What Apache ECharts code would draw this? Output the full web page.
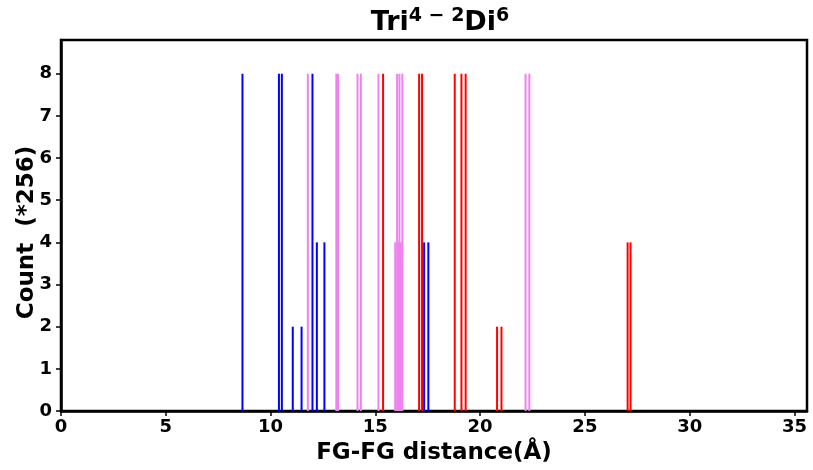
<!DOCTYPE html>
<html><head><meta charset="utf-8">
<script src="https://cdn.jsdelivr.net/npm/echarts@6/dist/echarts.min.js"></script>
<style>html,body{margin:0;padding:0;background:#fff}#c{width:813px;height:470px}</style>
</head><body><div id="c"></div>
<script>
// Blue series
const blueX = [8.66, 10.40, 10.54, 11.06, 11.48, 12.00, 12.21, 12.57, 17.33, 17.53];
const blueY = [8, 8, 8, 2, 2, 8, 4, 4, 4, 4];
// Violet series
const violetX = [11.78, 13.14, 13.22, 14.15, 14.31, 15.15, 15.95, 16.09, 16.22, 16.04, 16.15, 16.29, 22.17, 22.35];
const violetY = [8, 8, 8, 8, 8, 8, 4, 4, 4, 8, 8, 8, 8, 8];
// Red series
const redX = [15.37, 17.09, 17.23, 18.79, 19.11, 19.31, 20.81, 21.02, 27.04, 27.18];
const redY = [8, 8, 8, 8, 8, 8, 2, 2, 4, 4];
const xTicks = [0, 5, 10, 15, 20, 25, 30, 35];
const yTicks = [0, 1, 2, 3, 4, 5, 6, 7, 8];

function items(xs, ys, color) {
  return xs.map((x, i) => ({ value: [x, ys[i]], itemStyle: { color: color } }));
}
const data = [].concat(
  items(blueX, blueY, '#0000ff'),
  items(violetX, violetY, '#ee82ee'),
  items(redX, redY, '#ff0000')
);

const chart = echarts.init(document.getElementById('c'));
const font = 'DejaVu Sans';
chart.setOption({
  animation: false,
  title: {
    text: 'Tri{s|4 − 2}Di{s|6}',
    left: 435, top: 2, textAlign: 'center',
    textStyle: {
      fontFamily: font, fontWeight: 'bold', fontSize: 27, color: '#000',
      rich: { s: { fontFamily: font, fontWeight: 'bold', fontSize: 19, verticalAlign: 'top', padding: [0, 0, 12, 0], color: '#000' } }
    }
  },
  grid: { left: 61, right: 6, top: 40, bottom: 59, show: true, borderColor: '#000', borderWidth: 2.5, backgroundColor: 'transparent', outerBoundsMode: 'none', containLabel: false },
  xAxis: {
    type: 'value', min: 0, max: 35.6, interval: 5,
    splitLine: { show: false },
    axisLine: { show: true, lineStyle: { color: '#000', width: 2.5 } },
    axisTick: { show: true, length: 5, lineStyle: { color: '#000', width: 1.5 },
      customValues: xTicks },
    axisLabel: { fontFamily: font, fontWeight: 'bold', fontSize: 18, color: '#000', margin: 7,
      customValues: xTicks, formatter: v => String(v) },
    name: 'FG-FG distance(Å)', nameLocation: 'middle', nameGap: 31, nameMoveOverlap: false,
    nameTextStyle: { fontFamily: font, fontWeight: 'bold', fontSize: 23, color: '#000' }
  },
  yAxis: {
    type: 'value', min: 0, max: 8.8, interval: 1,
    splitLine: { show: false },
    axisLine: { show: true, lineStyle: { color: '#000', width: 2.5 } },
    axisTick: { show: true, length: 5, lineStyle: { color: '#000', width: 1.5 },
      customValues: yTicks },
    axisLabel: { fontFamily: font, fontWeight: 'bold', fontSize: 18, color: '#000', margin: 9,
      customValues: yTicks, formatter: v => String(v) },
    name: 'Count  (*256)', nameLocation: 'middle', nameGap: 22, nameMoveOverlap: false,
    nameTextStyle: { fontFamily: font, fontWeight: 'bold', fontSize: 23, color: '#000', padding: [0, 14, 0, 0] }
  },
  series: [{
    type: 'bar', barWidth: 2, data: data, barGap: '-100%'
  }]
});
</script></body></html>
